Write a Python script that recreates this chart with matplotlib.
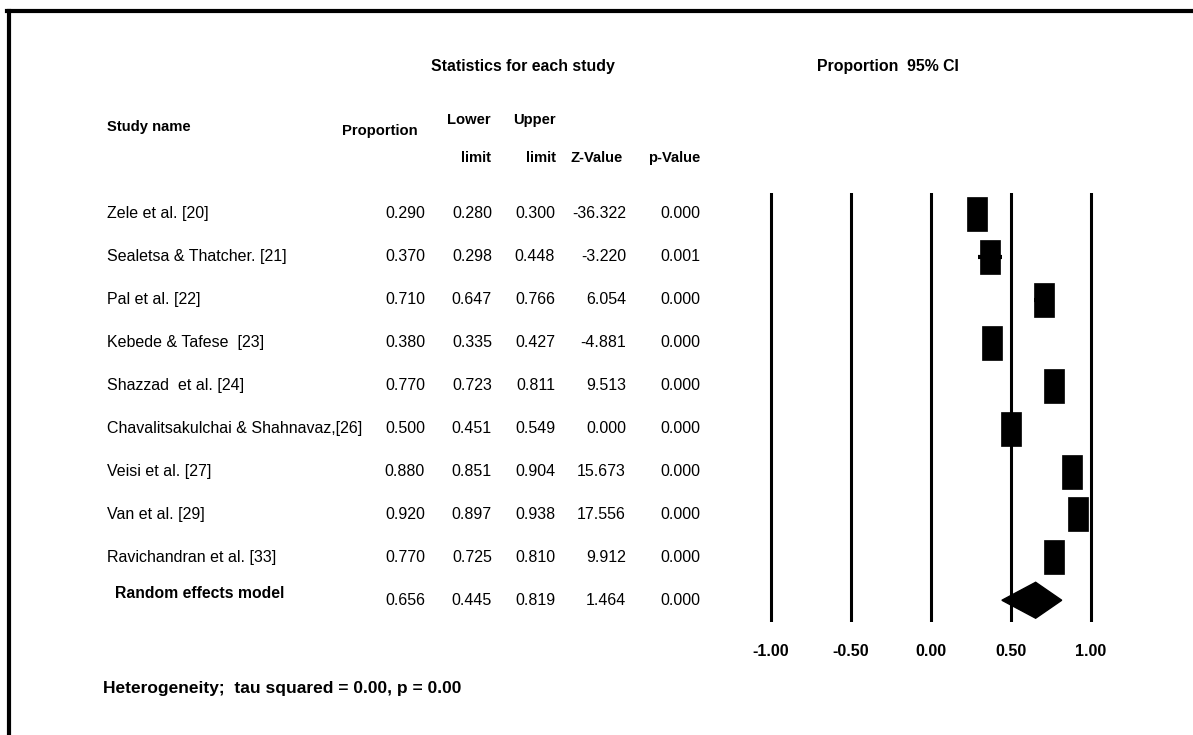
import matplotlib
matplotlib.use('Agg')
import matplotlib.pyplot as plt
from matplotlib.patches import Rectangle, Polygon
from matplotlib.lines import Line2D

# data
studies = ['Zele et al. [20]', 'Sealetsa & Thatcher. [21]', 'Pal et al. [22]',
           'Kebede & Tafese  [23]', 'Shazzad  et al. [24]',
           'Chavalitsakulchai & Shahnavaz,[26]', 'Veisi et al. [27]',
           'Van et al. [29]', 'Ravichandran et al. [33]']
proportion = [0.290, 0.370, 0.710, 0.380, 0.770, 0.500, 0.880, 0.920, 0.770]
lower = [0.280, 0.298, 0.647, 0.335, 0.723, 0.451, 0.851, 0.897, 0.725]
upper = [0.300, 0.448, 0.766, 0.427, 0.811, 0.549, 0.904, 0.938, 0.810]
z_value = [-36.322, -3.220, 6.054, -4.881, 9.513, 0.000, 15.673, 17.556, 9.912]
p_value = [0.000, 0.001, 0.000, 0.000, 0.000, 0.000, 0.000, 0.000, 0.000]

pooled_label = 'Random effects model'
pooled = [0.656, 0.445, 0.819, 1.464, 0.000]  # prop, lower, upper, z, p

xticks = [-1.0, -0.5, 0.0, 0.5, 1.0]
xtick_labels = ['-1.00', '-0.50', '0.00', '0.50', '1.00']

W, H = 1193, 735
FONT = ['Liberation Sans', 'DejaVu Sans']
plt.rcParams['font.family'] = FONT

fig = plt.figure(figsize=(W / 100, H / 100), dpi=100)
fig.patch.set_facecolor('white')


def px(x, y):
    # pixel position -> figure fraction
    return x / W, 1 - y / H


def put(x, y, s, ha='left', bold=False, size=11.5):
    fx, fy = px(x, y)
    fig.text(fx, fy, s, ha=ha, va='center', fontsize=size,
             fontweight='bold' if bold else 'normal', color='black')


# frame (top and left only)
fig.add_artist(Line2D([7 / W, 1], [1 - 11 / H, 1 - 11 / H], color='black', lw=3.0,
                      transform=fig.transFigure, solid_capstyle='projecting'))
fig.add_artist(Line2D([9 / W, 9 / W], [1 - 11 / H, 0], color='black', lw=3.0,
                      transform=fig.transFigure))

# headers
hs = 10.6
put(523, 67, 'Statistics for each study', ha='center', bold=True, size=11.4)
put(888, 67, 'Proportion  95% CI', ha='center', bold=True, size=11.4)
put(107, 127, 'Study name', bold=True, size=hs)
put(418, 131, 'Proportion', ha='right', bold=True, size=hs)
put(491, 120, 'Lower', ha='right', bold=True, size=hs)
put(491, 158, 'limit', ha='right', bold=True, size=hs)
put(556, 120, 'Upper', ha='right', bold=True, size=hs)
put(556, 158, 'limit', ha='right', bold=True, size=hs)
put(623, 158, 'Z-Value', ha='right', bold=True, size=hs)
put(700, 158, 'p-Value', ha='right', bold=True, size=hs)

# table rows
row0, dy = 213.7, 42.95
col_x = [425, 492, 555, 626, 700]
for i, name in enumerate(studies):
    y = row0 + i * dy
    put(107, y, name)
    vals = [proportion[i], lower[i], upper[i], z_value[i], p_value[i]]
    for cx, v in zip(col_x, vals):
        put(cx, y, '%.3f' % v, ha='right')

y = row0 + len(studies) * dy
put(115, y - 7, pooled_label, bold=True, size=11.3)
for cx, v in zip(col_x, pooled):
    put(cx, y, '%.3f' % v, ha='right')

put(103, 688, 'Heterogeneity;  tau squared = 0.00, p = 0.00', bold=True, size=12.5)

# forest plot axes: 160 px per unit, -1 at x=770.7
left_px, right_px = 740, 1120
top_px, bot_px = 192.7, 621.7
x0 = -1 - (770.7 - left_px) / 160
x1 = 1 + (right_px - 1090.7) / 160
ax = fig.add_axes([left_px / W, 1 - bot_px / H, (right_px - left_px) / W, (bot_px - top_px) / H])
ax.set_xlim(x0, x1)
n = len(studies)
ax.set_ylim(n + 0.5, -0.5)
for s in ax.spines.values():
    s.set_visible(False)
ax.set_yticks([])
ax.set_xticks(xticks)
ax.set_xticklabels(xtick_labels, fontweight='bold', fontsize=11.5)
ax.tick_params(axis='x', length=0, pad=16)
ax.patch.set_alpha(0)

for t in xticks:
    ax.axvline(t, color='black', lw=2.2, zorder=1)

sq_w = 20 / 160
sq_h = 34 / dy
for i in range(n):
    ax.plot([lower[i], upper[i]], [i, i], color='black', lw=3, solid_capstyle='butt', zorder=2)
    ax.add_patch(Rectangle((proportion[i] - sq_w / 2, i - sq_h / 2), sq_w, sq_h,
                           facecolor='black', edgecolor='black', lw=0.5, zorder=3))

dh = 18 / dy
ax.add_patch(Polygon([(pooled[1], n), (pooled[0], n - dh), (pooled[2], n), (pooled[0], n + dh)],
                     closed=True, facecolor='black', edgecolor='black', zorder=3))

fig.savefig('out.png', dpi=100, facecolor='white')
